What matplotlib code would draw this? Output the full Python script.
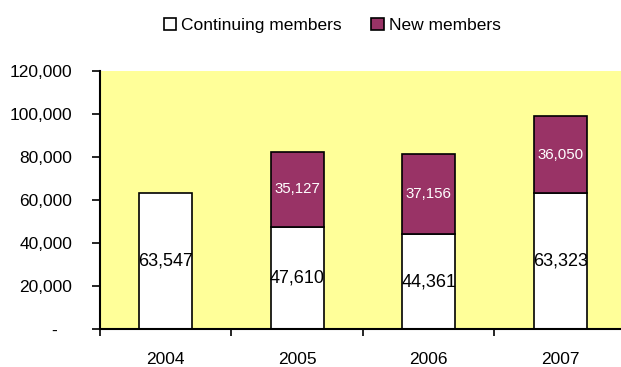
import numpy as np
import matplotlib.pyplot as plt
from matplotlib.ticker import FuncFormatter

plt.rcParams["font.family"] = ["Liberation Sans", "DejaVu Sans"]

years = ["2004", "2005", "2006", "2007"]
continuing = [63547, 47610, 44361, 63323]
new = [0, 35127, 37156, 36050]

fig = plt.figure(figsize=(6.21, 3.67), dpi=100)
ax = fig.add_axes([0.161, 0.1027, 0.847, 0.7025])
ax.set_facecolor("#FFFF99")

x = np.arange(len(years))
b1 = ax.bar(x, continuing, width=0.4, color="white", edgecolor="black",
            linewidth=1.2, label="Continuing members", zorder=2)
b2 = ax.bar(x[1:], new[1:], width=0.4, bottom=continuing[1:], color="#993366",
            edgecolor="black", linewidth=1.2, label="New members", zorder=2)

for xi, c in zip(x, continuing):
    ax.text(xi, c / 2, f"{c:,}", ha="center", va="center", fontsize=13, color="black")
for xi, c, n in zip(x[1:], continuing[1:], new[1:]):
    ax.text(xi, c + n / 2, f"{n:,}", ha="center", va="center", fontsize=10.8, color="white")

ax.set_xlim(-0.5, 3.5)
ax.set_ylim(0, 120000)
ax.set_yticks(np.arange(0, 120001, 20000))
ax.yaxis.set_major_formatter(FuncFormatter(lambda v, p: "-   " if v == 0 else f"{int(v):,}"))
ax.set_xticks(x)
ax.set_xticklabels(years)
ax.set_xticks(np.arange(-0.5, 3.6, 1), minor=True)
ax.tick_params(axis="x", which="major", length=0, pad=16, labelsize=12.5)
ax.tick_params(axis="x", which="minor", length=5, width=1.2, direction="out")
ax.tick_params(axis="y", length=6, width=1.2, direction="out", pad=14, labelsize=12.5)

ax.spines["top"].set_visible(False)
ax.spines["right"].set_visible(False)
ax.spines["left"].set_linewidth(1.5)
ax.spines["bottom"].set_linewidth(1.5)

fig.legend(handles=[b1, b2], loc="center", bbox_to_anchor=(0.535, 0.93), ncol=2,
           frameon=False, fontsize=12.5, handlelength=0.7, handleheight=0.7,
           handletextpad=0.3, columnspacing=1.7)

fig.savefig("out.png", dpi=100)
